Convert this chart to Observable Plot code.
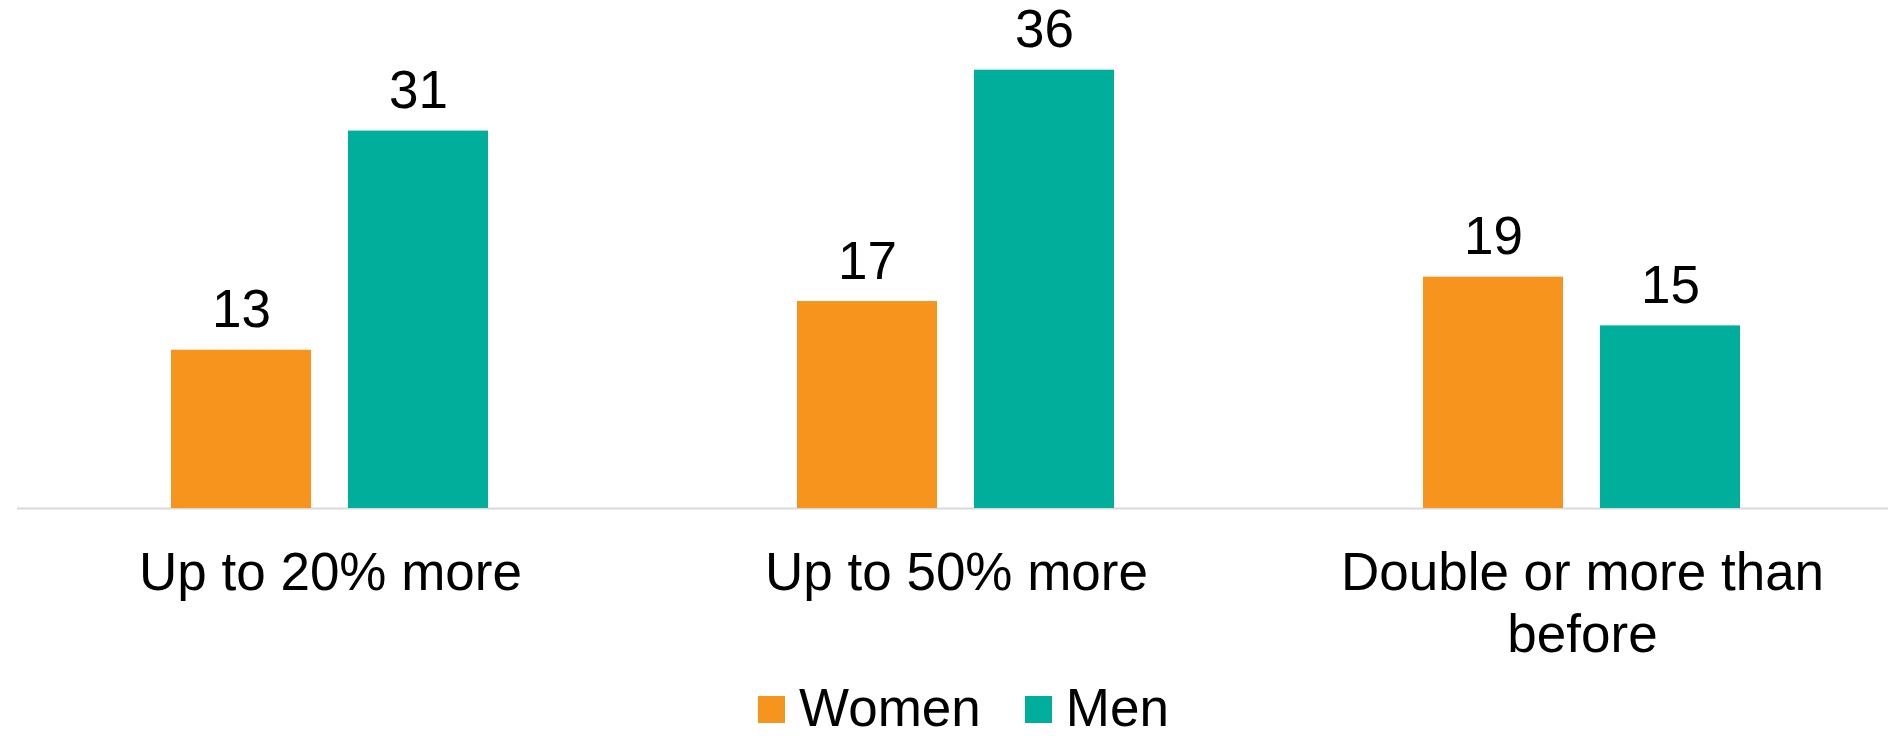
<!DOCTYPE html>
<html>
<head>
<meta charset="utf-8">
<script src="https://cdn.jsdelivr.net/npm/d3@7"></script>
<script src="https://cdn.jsdelivr.net/npm/@observablehq/plot@0.6"></script>
<style>
  html, body { margin: 0; padding: 0; background: #fff; overflow: hidden; }
  body { width: 1888px; height: 738px; font-family: "Liberation Sans", Arial, sans-serif; }
  #legend { display: flex; justify-content: center; align-items: flex-start; height: 48px; padding-left: 39px;
            margin-top: -6px; font-size: 53px; line-height: 48px; color: #000; }
  #legend .item { display: flex; align-items: flex-start; }
  #legend .sw { width: 27px; height: 27px; margin-top: 12px; margin-right: 14px; }
  #legend .item + .item { margin-left: 44px; }
</style>
</head>
<body>
<div id="chart"></div>
<div id="legend"></div>
<script>
const categories = ["Up to 20% more", "Up to 50% more", "Double or more than before"];
const tickLabels = ["Up to 20% more", "Up to 50% more", "Double or more than\nbefore"];
const series = ["Women", "Men"];
const women = [13, 17, 19];
const men = [31, 36, 15];
const colors = ["#F7941E", "#00AF9B"];

const data = categories.flatMap((c, i) => [
  {category: c, series: series[0], value: women[i]},
  {category: c, series: series[1], value: men[i]}
]);

const chart = Plot.plot({
  width: 1888,
  height: 690,
  marginTop: 21,
  marginBottom: 182,
  marginLeft: 16,
  marginRight: -8,
  style: {fontFamily: "'Liberation Sans', Arial, sans-serif", fontSize: "53px", color: "#000", background: "#fff"},
  fx: {domain: categories, padding: 0, label: null, axis: null},
  x: {domain: series, paddingInner: 0.208, paddingOuter: 0.864, axis: null},
  y: {domain: [0, 40], axis: null},
  color: {domain: series, range: colors},
  marks: [
    Plot.ruleY([0], {stroke: "#D9D9D9", strokeWidth: 2}),
    Plot.barY(data, {fx: "category", x: "series", y: "value", fill: "series"}),
    Plot.text(data, {fx: "category", x: "series", y: "value", text: "value", lineAnchor: "bottom", dy: -23, fill: "#000", fontSize: 53}),
    Plot.axisFx({
      anchor: "bottom",
      tickSize: 0, tickPadding: 37, lineHeight: 1.17, fontSize: 53, label: null, fill: "#000",
      tickFormat: d => tickLabels[categories.indexOf(d)]
    })
  ]
});
document.getElementById("chart").append(chart);

const legend = document.getElementById("legend");
series.forEach((s, i) => {
  const item = document.createElement("div");
  item.className = "item";
  const sw = document.createElement("div");
  sw.className = "sw";
  sw.style.background = colors[i];
  const label = document.createElement("span");
  label.textContent = s;
  item.append(sw, label);
  legend.append(item);
});
</script>
</body>
</html>
